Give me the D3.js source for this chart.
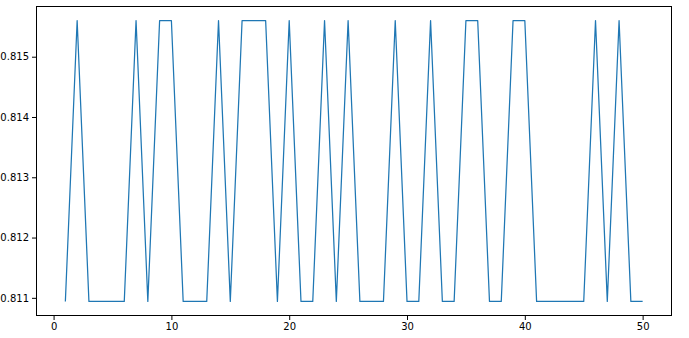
<!DOCTYPE html>
<html>
<head>
<meta charset="utf-8">
<script src="https://cdn.jsdelivr.net/npm/d3@7"></script>
<style>
  body { margin: 0; background: #fff; }
  .axis text { font-family: "DejaVu Sans", sans-serif; font-size: 10px; fill: #000; }
  .axis path, .axis line { stroke: #000; }
</style>
</head>
<body>
<svg width="689" height="338"></svg>
<script>
// values per step (low / high plateau)
var lo = 0.81094, hi = 0.81560;
var steps = d3.range(1, 51);
var levels = ["L","H","L","L","L","L","H","L","H","H",
              "L","L","L","H","L","H","H","H","L","H",
              "L","L","H","L","H","L","L","L","H","L",
              "L","H","L","L","H","H","L","L","H","H",
              "L","L","L","L","L","H","L","H","L","L"];
var xTicks = [0, 10, 20, 30, 40, 50];
var yTicks = [0.811, 0.812, 0.813, 0.814, 0.815];

var values = levels.map(function(l) { return l == "H" ? hi : lo; });
var data = steps.map(function(s, i) { return {step: s, value: values[i]}; });

var svg = d3.select("svg"),
  margin = {top: 6.5, right: 17.5, bottom: 22.5, left: 36.5},
  width = svg.attr("width") - margin.left - margin.right,
  height = svg.attr("height") - margin.top - margin.bottom,
  g = svg.append("g").attr("transform", "translate(" + margin.left + "," + margin.top + ")");

// matplotlib style 5% margins
var xPad = (d3.max(steps) - d3.min(steps)) * 0.05,
    yPad = (hi - lo) * 0.05;

var x = d3.scaleLinear().domain([d3.min(steps) - xPad, d3.max(steps) + xPad]).range([0, width]),
    y = d3.scaleLinear().domain([lo - yPad, hi + yPad]).range([height, 0]);

var line = d3.line()
  .x(function(d) { return x(d.step); })
  .y(function(d) { return y(d.value); });

g.append("path")
  .datum(data)
  .attr("fill", "none")
  .attr("stroke", "#1f77b4")
  .attr("stroke-width", 1.25)
  .attr("stroke-linejoin", "round")
  .attr("d", line);

g.append("g")
  .attr("class", "axis axis--x")
  .attr("transform", "translate(0," + height + ")")
  .call(d3.axisBottom(x).tickValues(xTicks).tickSize(4.5).tickPadding(3).tickSizeOuter(0))
  .call(function(a) { a.select(".domain").remove(); });

g.append("g")
  .attr("class", "axis axis--y")
  .call(d3.axisLeft(y).tickValues(yTicks).tickFormat(d3.format(".3f")).tickSize(4.5).tickPadding(3).tickSizeOuter(0))
  .call(function(a) { a.select(".domain").remove(); });

g.append("rect")
  .attr("width", width)
  .attr("height", height)
  .attr("fill", "none")
  .attr("stroke", "#000")
  .attr("stroke-width", 1);
</script>
</body>
</html>
